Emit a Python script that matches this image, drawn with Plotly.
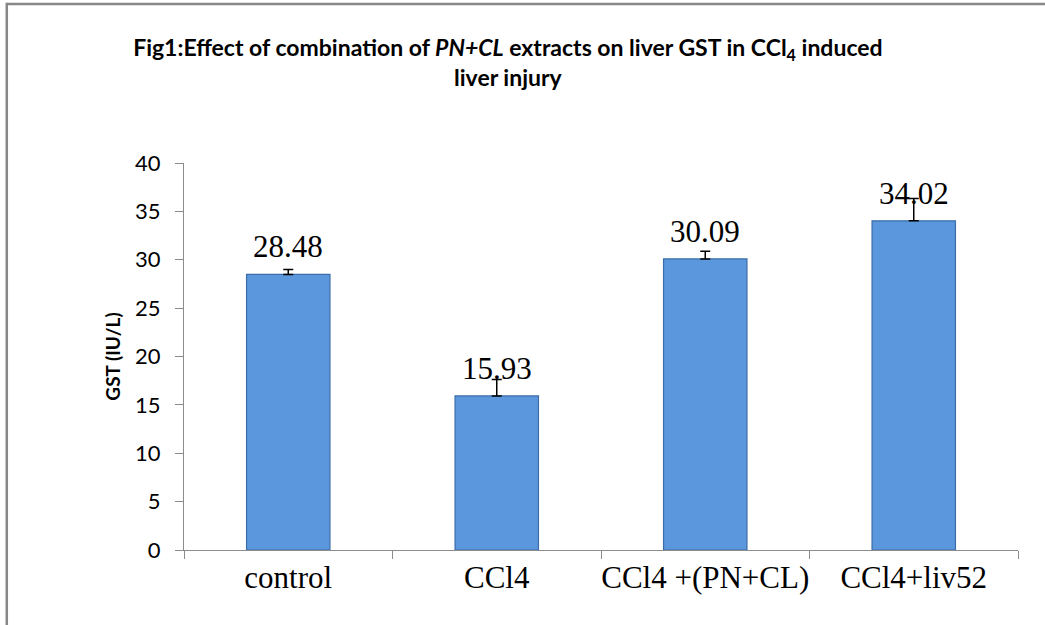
import plotly.graph_objects as go

categories = ["control", "CCl4", "CCl4 +(PN+CL)", "CCl4+liv52"]
values = [28.48, 15.93, 30.09, 34.02]
errors = [0.5, 1.7, 0.8, 2.3]
labels = ["28.48", "15.93", "30.09", "34.02"]
y_ticks = [0, 5, 10, 15, 20, 25, 30, 35, 40]

fig = go.Figure()
fig.add_trace(go.Bar(
    x=categories, y=values, width=0.4,
    marker=dict(color="#5B97DD", line=dict(color="#3A6CA8", width=1.2)),
    error_y=dict(type="data", array=errors, symmetric=False, arrayminus=[0]*4,
                 color="black", thickness=1.5, width=5),
    showlegend=False, hoverinfo="x+y",
))

for c, v, t in zip(categories, values, labels):
    fig.add_annotation(x=c, y=v, text=t, showarrow=False, yanchor="bottom", yshift=8,
                       font=dict(family="Liberation Serif, Times New Roman, serif", size=31, color="black"))

fig.update_layout(
    width=1045, height=625,
    margin=dict(l=184, r=27, t=163, b=75, autoexpand=False),
    paper_bgcolor="white", plot_bgcolor="white",
    title=dict(
        text="<b>Fig1:Effect of combination of <i>PN+CL</i> extracts on liver GST in CCl<sub>4</sub> induced<br>liver injury</b>",
        x=0.486, xanchor="center", y=0.91, yanchor="top",
        font=dict(family="Lato, Open Sans, sans-serif", size=23, color="black"),
    ),
    bargap=0.6,
    xaxis=dict(
        showline=True, linecolor="#8C8C8C", linewidth=1.3,
        ticks="outside", tickson="boundaries", ticklen=8, tickcolor="#8C8C8C",
        tickangle=0, automargin=False,
        tickfont=dict(family="Liberation Serif, Times New Roman, serif", size=31, color="black"),
        showgrid=False,
    ),
    yaxis=dict(
        range=[0, 40], tickvals=y_ticks, automargin=False,
        showline=True, linecolor="#8C8C8C", linewidth=1.3,
        ticks="outside", ticklen=8, tickcolor="#8C8C8C", ticklabelstandoff=10,
        tickfont=dict(family="Lato, Open Sans, sans-serif", size=22, color="black"),
        showgrid=False, zeroline=False,
        title=dict(text="<b>GST (IU/L)</b>", standoff=9,
                   font=dict(family="Lato, Open Sans, sans-serif", size=19, color="black")),
    ),
)

# outer chart border (cropped at right/bottom in the reference)
fig.add_shape(type="line", xref="paper", yref="paper", x0=-0.2125, x1=1.1, y0=1.411, y1=1.411,
              line=dict(color="#888888", width=2.5))
fig.add_shape(type="line", xref="paper", yref="paper", x0=-0.2125, x1=-0.2125, y0=-0.3, y1=1.414,
              line=dict(color="#888888", width=2.5))

fig.write_html("out.html", config={"displayModeBar": False},
               post_script="document.body.style.margin='0';")
